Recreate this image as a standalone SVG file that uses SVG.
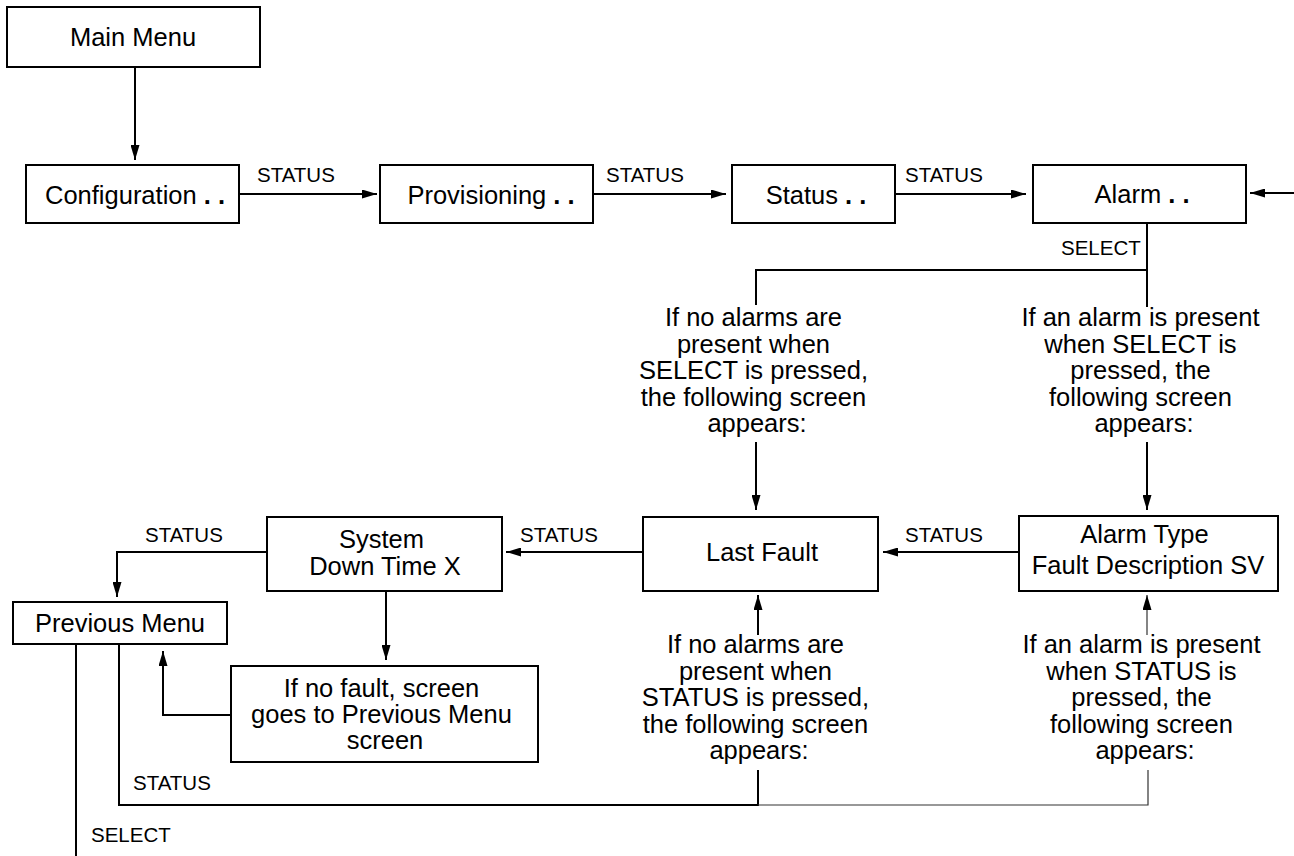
<svg xmlns="http://www.w3.org/2000/svg" width="1294" height="856" viewBox="0 0 1294 856">
  <style>
    .box { fill: #ffffff; stroke: #000000; stroke-width: 2; }
    .txt { font-family: "Liberation Sans", Arial, sans-serif; font-size: 25.5px; fill: #000000; text-anchor: middle; }
    .lbl { font-family: "Liberation Sans", Arial, sans-serif; font-size: 20.5px; fill: #000000; }
    .wire { fill: none; stroke: #000000; stroke-width: 2; }
    .thin { fill: none; stroke: #333333; stroke-width: 1.2; }
    .dots { font-weight: bold; }
  </style>
  <defs>
    <marker id="arrow" markerUnits="userSpaceOnUse" markerWidth="15" markerHeight="9" refX="15" refY="4.5" orient="auto">
      <path d="M0,0 L15,4.5 L0,9 z" fill="#000000"/>
    </marker>
  </defs>
  <rect width="1294" height="856" fill="#ffffff"/>

  <!-- connectors and their key labels -->
  <g id="connectors">
    <path class="wire" d="M135,67 V160" marker-end="url(#arrow)"/>
    <path class="wire" d="M239,194 H377" marker-end="url(#arrow)"/>
    <path class="wire" d="M593,194 H726" marker-end="url(#arrow)"/>
    <path class="wire" d="M895,194 H1026" marker-end="url(#arrow)"/>
    <path class="wire" d="M1294,193 H1250" marker-end="url(#arrow)"/>
    <path class="wire" d="M1147,223 V307"/>
    <path class="wire" d="M1147,270 H756 V305"/>
    <path class="wire" d="M756,442 V510" marker-end="url(#arrow)"/>
    <path class="wire" d="M1147,442 V510" marker-end="url(#arrow)"/>
    <path class="wire" d="M1019,552 H883" marker-end="url(#arrow)"/>
    <path class="wire" d="M643,552 H506" marker-end="url(#arrow)"/>
    <path class="wire" d="M267,552 H117 V597" marker-end="url(#arrow)"/>
    <path class="wire" d="M386,591 V660" marker-end="url(#arrow)"/>
    <path class="wire" d="M231,715 H163 V651" marker-end="url(#arrow)"/>
    <path class="wire" d="M76,644 V856"/>
    <path class="wire" d="M758,635 V595" marker-end="url(#arrow)"/>
    <path class="wire" d="M758,770 V805 H119 V644"/>
    <path class="thin" d="M1147,635 V595" marker-end="url(#arrow)"/>
    <path class="thin" d="M1148,770 V805 H758"/>

    <text class="lbl" x="257" y="182">STATUS</text>
    <text class="lbl" x="606" y="182">STATUS</text>
    <text class="lbl" x="905" y="182">STATUS</text>
    <text class="lbl" x="1061" y="255">SELECT</text>
    <text class="lbl" x="905" y="542">STATUS</text>
    <text class="lbl" x="520" y="542">STATUS</text>
    <text class="lbl" x="145" y="542">STATUS</text>
    <text class="lbl" x="133" y="790">STATUS</text>
    <text class="lbl" x="91" y="842">SELECT</text>

    <!-- condition notes along the branches -->
    <text class="txt">
      <tspan x="757" y="326">If no alarms are</tspan>
      <tspan x="757" y="352.5">present when</tspan>
      <tspan x="757" y="379">SELECT is pressed,</tspan>
      <tspan x="757" y="405.5">the following screen</tspan>
      <tspan x="757" y="432">appears:</tspan>
    </text>
    <text class="txt">
      <tspan x="1144" y="326">If an alarm is present</tspan>
      <tspan x="1144" y="352.5">when SELECT is</tspan>
      <tspan x="1144" y="379">pressed, the</tspan>
      <tspan x="1144" y="405.5">following screen</tspan>
      <tspan x="1144" y="432">appears:</tspan>
    </text>
    <text class="txt">
      <tspan x="759" y="653">If no alarms are</tspan>
      <tspan x="759" y="679.5">present when</tspan>
      <tspan x="759" y="706">STATUS is pressed,</tspan>
      <tspan x="759" y="732.5">the following screen</tspan>
      <tspan x="759" y="759">appears:</tspan>
    </text>
    <text class="txt">
      <tspan x="1145" y="653">If an alarm is present</tspan>
      <tspan x="1145" y="679.5">when STATUS is</tspan>
      <tspan x="1145" y="706">pressed, the</tspan>
      <tspan x="1145" y="732.5">following screen</tspan>
      <tspan x="1145" y="759">appears:</tspan>
    </text>
  </g>

  <!-- menu screens -->
  <g id="main-menu">
    <rect class="box" x="7" y="7" width="253" height="60"/>
    <text class="txt" x="133" y="46">Main Menu</text>
  </g>
  <g id="configuration">
    <rect class="box" x="26" y="165" width="213" height="58"/>
    <text class="txt" x="135" y="204">Configuration<tspan class="dots"> . .</tspan></text>
  </g>
  <g id="provisioning">
    <rect class="box" x="380" y="165" width="213" height="58"/>
    <text class="txt" x="491" y="204">Provisioning<tspan class="dots"> . .</tspan></text>
  </g>
  <g id="status">
    <rect class="box" x="732" y="165" width="163" height="58"/>
    <text class="txt" x="816" y="204">Status<tspan class="dots"> . .</tspan></text>
  </g>
  <g id="alarm">
    <rect class="box" x="1033" y="165" width="213" height="58"/>
    <text class="txt" x="1142" y="203">Alarm<tspan class="dots"> . .</tspan></text>
  </g>
  <g id="last-fault">
    <rect class="box" x="643" y="517" width="235" height="74"/>
    <text class="txt" x="762" y="561">Last Fault</text>
  </g>
  <g id="alarm-type">
    <rect class="box" x="1019" y="516" width="259" height="75"/>
    <text class="txt">
      <tspan x="1148" y="543">Alarm Type</tspan>
      <tspan x="1148" y="574">Fault Description SV</tspan>
    </text>
  </g>
  <g id="system-down-time">
    <rect class="box" x="267" y="517" width="235" height="74"/>
    <text class="txt">
      <tspan x="385" y="548">System</tspan>
      <tspan x="385" y="575">Down Time X</tspan>
    </text>
  </g>
  <g id="previous-menu">
    <rect class="box" x="13" y="602" width="214" height="42"/>
    <text class="txt" x="120" y="632">Previous Menu</text>
  </g>
  <g id="no-fault">
    <rect class="box" x="231" y="666" width="307" height="96"/>
    <text class="txt">
      <tspan x="385" y="697">If no fault, screen</tspan>
      <tspan x="385" y="723">goes to Previous Menu</tspan>
      <tspan x="385" y="749">screen</tspan>
    </text>
  </g>
</svg>
